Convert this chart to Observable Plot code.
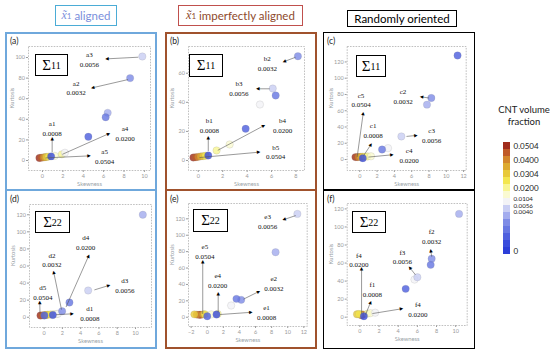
<!DOCTYPE html>
<html><head><meta charset="utf-8">
<script src="https://cdn.jsdelivr.net/npm/d3@7"></script>
<script src="https://cdn.jsdelivr.net/npm/@observablehq/plot@0.6"></script>
<style>
body{margin:0;background:#fff;}
#root{position:relative;width:550px;height:355px;overflow:hidden;font-family:Lato,"Open Sans",sans-serif;}
.abs{position:absolute;box-sizing:border-box;}
.hdr{display:flex;align-items:center;justify-content:center;font-size:11.5px;white-space:nowrap;}
.sig{border:1.6px solid #000;background:#fff;display:flex;align-items:center;justify-content:center;font-family:"Liberation Serif","DejaVu Serif",serif;font-size:15px;color:#000;}
.sig sub{font-size:10px;vertical-align:-3px;}
.let{font-size:8.5px;color:#222;}
.xt{font-family:"Liberation Serif",serif;font-style:italic;font-size:12px;}
svg{overflow:visible;}
</style></head><body><div id="root"></div>
<script>
// ---------- colour scale (CNT volume fraction) ----------
const colorStops = [0, 0.0008, 0.0016, 0.0024, 0.0032, 0.004, 0.0056, 0.0104, 0.015, 0.02, 0.025, 0.0304, 0.035, 0.04, 0.045, 0.0504];
const colorHex = ["#2c3ed8","#3a4ddc","#4f60de","#6878e2","#7f8ce6","#a3acee","#c9cef3","#f3f3f6","#fafad2","#f8f594","#f3e650","#e8c93a","#ddaa30","#d3862c","#c05a28","#a02c1c"];

// legend swatches (top to bottom) and labels
const legendSwatches = [0.0504, 0.045, 0.04, 0.035, 0.0304, 0.025, 0.02, 0.015, 0.0104, 0.0056, 0.004, 0.0032, 0.0024, 0.0016, 0.0008, 0];
const legendLabels = ["0.0504", "0.0400", "0.0304", "0.0200", "0.0104", "0"];
const legendLabelSlots = [0, 2, 4, 6, 8, 15];
const legendSmallLabels = ["0.0056", "0.0040"];

// ---------- panel (a) Σ11, aligned ----------
const skewA = [-0.3, -0.1, 0.1, 0.25, 0.4, 0.6, 1.2, 1.9, 2.2, 0.85, 4.5, 6.2, 8.6, 6.4, 9.8];
const kurtA = [2.5, 2.8, 3, 3.2, 3.5, 3.8, 4.5, 6, 7.5, 4, 23, 42, 80, 46.3, 101];
const fracA = [0.0504, 0.045, 0.04, 0.035, 0.0304, 0.025, 0.015, 0.02, 0.0104, 0.0008, 0.0016, 0.0024, 0.0032, 0.004, 0.0056];
// [name, fraction, labelX, labelY, arrowX1, arrowY1, arrowX2, arrowY2]
const annA = [
  ["a1","0.0008",0.95,32, 0.95,8, 0.95,21],
  ["a2","0.0032",3.3,71, 8.4,78.6, 4.9,70.6],
  ["a3","0.0056",4.6,99, 9.4,100.3, 6.3,98.7],
  ["a4","0.0200",8.1,27, 1.95,6, 6.5,26],
  ["a5","0.0504",6.1,4.2, 0.3,2.5, 4.6,4.5]
];

// ---------- panel (b) Σ11, imperfectly aligned ----------
const skewB = [-0.4, -0.2, 0, 0.2, 0.4, 0.6, 2.57, 1.5, 5.05, 0.82, 3.88, 6.34, 8.16, 6.1];
const kurtB = [2, 2.2, 2.5, 2.8, 3, 3.2, 11, 6.9, 38.5, 3.4, 21.8, 44.7, 71.7, 49.5];
const fracB = [0.0504, 0.045, 0.04, 0.035, 0.0304, 0.025, 0.015, 0.02, 0.0104, 0.0008, 0.0016, 0.0024, 0.0032, 0.0056];
const annB = [
  ["b1","0.0008",0.9,24.3, 0.82,6.5, 0.82,15.6],
  ["b2","0.0032",5.65,67.3, 7.97,71, 7.02,68],
  ["b3","0.0056",3.33,49.7, 5.85,49.3, 4.84,49.3],
  ["b4","0.0200",6.9,24.3, 1.6,7, 5.38,24],
  ["b5","0.0504",6.34,6.2, 0.1,2, 4.97,5.7]
];

// ---------- panel (c) Σ11, randomly oriented ----------
const skewC = [-0.5, -0.3, -0.1, 0.1, 0.3, 0.6, 0.9, 1.3, 3.27, 0.35, 11.3, 2.58, 8.27, 7.77, 4.81];
const kurtC = [3, 3, 3.2, 3.3, 3.5, 3.6, 3.8, 4, 14, 1.6, 128, 12.3, 75.7, 67.5, 28.4];
const fracC = [0.0504, 0.045, 0.04, 0.035, 0.0304, 0.025, 0.02, 0.015, 0.0104, 0.0008, 0.0016, 0.0024, 0.0032, 0.004, 0.0056];
const annC = [
  ["c1","0.0008",1.55,36.2, 0.46,5, 1.3,18.5],
  ["c2","0.0032",5.0,78.4, 8.0,75.7, 7.1,77],
  ["c3","0.0056",8.3,30, 5.4,28.4, 6.5,29.6],
  ["c4","0.0200",5.7,5.3, 1.0,3, 3.74,5.8],
  ["c5","0.0504",0.15,74, -0.3,3, 0.4,57]
];

// ---------- panel (d) Σ22, aligned ----------
const skewD = [-0.4, -0.2, 0, 0.2, 0.4, 0.7, 1.0, 1.4, 1.5, 0.95, 0.03, 2.77, 1.97, 10.8, 4.82];
const kurtD = [2, 2.2, 2.5, 2.7, 3, 3.3, 3.5, 3.8, 4, 2.6, 2, 17.2, 7, 120, 31.3];
const fracD = [0.0504, 0.045, 0.04, 0.035, 0.0304, 0.025, 0.02, 0.015, 0.0104, 0.0008, 0.0016, 0.0024, 0.0032, 0.004, 0.0056];
const annD = [
  ["d1","0.0008",5.0,5, 1.3,3, 3.07,4],
  ["d2","0.0032",0.85,67.8, 1.9,9, 1.05,52.8],
  ["d3","0.0056",8.83,38.2, 5.5,32, 7.08,37.2],
  ["d4","0.0200",4.55,88.3, 2.4,12, 4.88,72],
  ["d5","0.0504",-0.15,29.8, -0.45,4, -0.48,17.6]
];

// ---------- panel (e) Σ22, imperfectly aligned ----------
const skewE = [-1.0, -0.8, -1.3, -0.5, -1.6, -0.3, 1.3, 0.5, 2.97, 1.15, 0, 3.63, 4.22, 8.49, 11.2];
const kurtE = [3, 3, 3.2, 3.5, 3.5, 3.6, 4, 3.5, 14.3, 3.3, 1.2, 22.4, 21.2, 79.3, 126];
const fracE = [0.0504, 0.045, 0.04, 0.035, 0.0304, 0.025, 0.02, 0.015, 0.0104, 0.0008, 0.0016, 0.0024, 0.0032, 0.004, 0.0056];
const annE = [
  ["e1","0.0008",7.37,6.1, 1.6,3.3, 5.46,6],
  ["e2","0.0032",8.27,42.3, 4.5,22, 6.4,31.3],
  ["e3","0.0056",7.5,118, 11,124, 9.5,119],
  ["e4","0.0200",1.3,45.3, 1.36,6, 1.36,28.5],
  ["e5","0.0504",-0.3,80.5, -0.56,4, -0.56,68]
];

// ---------- panel (f) Σ22, randomly oriented ----------
const skewF = [0.2, 0.1, 0.3, 0, -0.3, -0.1, 0.8, 1.1, 1.6, 0.42, 4.78, 7.39, 7.49, 10.35, 6.0, 5.7];
const kurtF = [2.5, 2.7, 3, 3, 3.2, 3.5, 4, 4.5, 5, 1, 31.4, 58, 64.7, 114.5, 44.3, 41.7];
const fracF = [0.0504, 0.045, 0.04, 0.035, 0.0304, 0.025, 0.02, 0.015, 0.0104, 0.0008, 0.0016, 0.0024, 0.0032, 0.004, 0.0056, 0.0104];
const annF = [
  ["f1","0.0008",1.3,31.8, 0.6,3, 1.12,16.6],
  ["f2","0.0032",7.49,90, 7.5,67, 7.39,74],
  ["f3","0.0056",4.43,67.4, 5.8,47, 5.2,55],
  ["f4","0.0200",-0.1,64, 0.18,4, 0.18,53.6],
  ["f4","0.0200",6.06,9.25, 1.3,4, 4.36,9.3]
];

// ---------- layout ----------
const root = document.getElementById("root");
function add(html){ root.insertAdjacentHTML("beforeend", html); }

const colorOpt = {type: "linear", domain: colorStops, range: colorHex};

function panel(p){
  const pts = p.skew.map((s,i)=>({s, k: p.kurt[i], f: p.frac[i]})).sort((a,b)=>b.f-a.f);
  // pixel-per-unit factors (from the plot's own layout) to orient the arrow heads
  const kx = (p.w - p.m[0] - p.m[1]) / (p.xd[1] - p.xd[0]);
  const ky = (p.h - p.m[2] - p.m[3]) / (p.yd[1] - p.yd[0]);
  const ann = p.ann.map(d=>({name:d[0], val:d[1], lx:d[2], ly:d[3], x1:d[4], y1:d[5], x2:d[6], y2:d[7],
    ang: Math.atan2((d[6]-d[4])*kx, (d[7]-d[5])*ky) * 180 / Math.PI}));
  const svg = Plot.plot({
    width: p.w, height: p.h,
    marginLeft: p.m[0], marginRight: p.m[1], marginTop: p.m[2], marginBottom: p.m[3],
    style: {fontSize: "5.5px", color: "#9a9a9a", fontFamily: "Lato, sans-serif", background: "transparent"},
    x: {domain: p.xd, ticks: p.xt, tickSize: 2, tickPadding: 1.5, label: null},
    y: {domain: p.yd, ticks: p.yt, tickSize: 2, tickPadding: 1.5, label: null},
    color: colorOpt,
    marks: [
      Plot.frame({stroke: "#b0b0b0", strokeDasharray: "1.6,1.2", strokeWidth: 0.8}),
      Plot.text(["Skewness"], {frameAnchor: "bottom", text: d => d, dy: 15.5, fontSize: 5.8, fill: "#9aa3a8"}),
      Plot.text(["Kurtosis"], {frameAnchor: "left", text: d => d, dx: -16, rotate: -90, fontSize: 5.8, fill: "#9aa3a8"}),
      Plot.dot(pts, {x: "s", y: "k", fill: "f", r: 3.7, fillOpacity: 0.82, stroke: "#777", strokeOpacity: 0.3, strokeWidth: 0.5}),
      Plot.link(ann, {x1: "x1", y1: "y1", x2: "x2", y2: "y2", stroke: "#555", strokeWidth: 0.6}),
      Plot.text(ann, {x: "x2", y: "y2", text: () => "\u25B2", rotate: "ang", fontSize: 4.5, fill: "#000", fontFamily: "DejaVu Sans"}),
      Plot.text(ann, {x: "lx", y: "ly", text: d => d.name + "\n" + d.val, fontSize: 7, lineHeight: 1.4, fill: "#111", fontFamily: "Liberation Serif, serif"})
    ]
  });
  svg.style.position = "absolute";
  svg.style.left = p.left + "px";
  svg.style.top = p.top + "px";
  root.appendChild(svg);
}

panel({left:5, top:32, w:152, h:158, m:[23,7,14,20], xd:[-1.37,10.6], yd:[-9.7,110.7], xt:[0,2,4,6,8,10], yt:[0,20,40,60,80,100], skew:skewA, kurt:kurtA, frac:fracA, ann:annA});
panel({left:165, top:32, w:152, h:158, m:[23,13,14,20], xd:[-0.8,8.7], yd:[-6.9,78.4], xt:[0,2,4,6,8], yt:[0,20,40,60], skew:skewB, kurt:kurtB, frac:fracB, ann:annB});
panel({left:323, top:32, w:152, h:158, m:[23.7,9.3,14,20], xd:[-1.45,12.3], yd:[-13.5,139], xt:[0,2,4,6,8,10,12], yt:[0,20,40,60,80,100,120], skew:skewC, kurt:kurtC, frac:fracC, ann:annC});
panel({left:5, top:190, w:152, h:159, m:[24,6,14,22], xd:[-1.6,11.75], yd:[-12,132], xt:[0,2,4,6,8,10], yt:[0,20,40,60,80,100,120], skew:skewD, kurt:kurtD, frac:fracD, ann:annD});
panel({left:165, top:190, w:152, h:159, m:[23,10.3,13,23], xd:[-2.33,12.42], yd:[-11.3,138.7], xt:[-2,0,2,4,6,8,10,12], yt:[0,20,40,60,80,100,120], skew:skewE, kurt:kurtE, frac:fracE, ann:annE});
panel({left:323, top:190, w:152, h:159, m:[23.7,8.3,13,24], xd:[-1.32,11.2], yd:[-9.2,126], xt:[0,2,4,6,8,10], yt:[0,20,40,60,80,100,120], skew:skewF, kurt:kurtF, frac:fracF, ann:annF});

// legend
const sw = legendSwatches.map((v,i)=>({i, v}));
const lab = legendLabels.map((t,j)=>({i: legendLabelSlots[j], t}));
const small = legendSmallLabels.map((t,j)=>({i: 8, t, j}));
const leg = Plot.plot({
  width: 52, height: 130, marginLeft: 5, marginRight: 40, marginTop: 5, marginBottom: 4,
  style: {background: "transparent", fontFamily: "Lato, sans-serif"},
  x: {axis: null},
  y: {type: "band", domain: d3.range(legendSwatches.length), padding: 0, axis: null},
  color: colorOpt,
  marks: [
    Plot.cell(sw, {y: "i", fill: "v", inset: 0}),
    Plot.text(lab.filter(d=>d.i!==8), {y: "i", text: "t", frameAnchor: "right", textAnchor: "start", dx: 3, fontSize: 8, fill: "#222"}),
    Plot.text(lab.filter(d=>d.i===8), {y: "i", text: "t", frameAnchor: "right", textAnchor: "start", dx: 3, dy: -2.8, fontSize: 6.2, fill: "#222"}),
    Plot.text(small.filter(d=>d.j===0), {y: "i", text: "t", frameAnchor: "right", textAnchor: "start", dx: 3, dy: 3.6, fontSize: 6.2, fill: "#222"}),
    Plot.text(small.filter(d=>d.j===1), {y: "i", text: "t", frameAnchor: "right", textAnchor: "start", dx: 3, dy: 10, fontSize: 6.2, fill: "#222"})
  ]
});
leg.style.position = "absolute"; leg.style.left = "498px"; leg.style.top = "132px";
root.appendChild(leg);

// frames, headers, labels
add('<div class="abs" style="left:5px;top:32px;width:152px;height:317px;border:2px solid #6fa8dc"></div>');
add('<div class="abs" style="left:5px;top:189px;width:152px;height:2px;background:#6fa8dc"></div>');
add('<div class="abs" style="left:165px;top:32px;width:152px;height:317px;border:2px solid #a0522d"></div>');
add('<div class="abs" style="left:165px;top:189px;width:152px;height:2px;background:#a0522d"></div>');
add('<div class="abs" style="left:323px;top:32px;width:152px;height:317px;border:1.5px solid #000"></div>');
add('<div class="abs" style="left:323px;top:189px;width:152px;height:1.5px;background:#000"></div>');

add('<div class="abs hdr" style="left:55px;top:5px;width:62px;height:21px;border:1.5px solid #4bacd6;color:#7b8fdc"><span class="xt">x&#x303;</span><sub style="font-size:8px">1</sub>&nbsp;aligned</div>');
add('<div class="abs hdr" style="left:178px;top:5px;width:125px;height:21px;border:1.5px solid #c0504d;color:#8e4a2c"><span class="xt">x&#x303;</span><sub style="font-size:8px">1</sub>&nbsp;imperfectly aligned</div>');
add('<div class="abs hdr" style="left:347px;top:10px;width:110px;height:17px;border:1px solid #000;color:#000">Randomly oriented</div>');

add('<div class="abs let" style="left:10px;top:36px">(a)</div>');
add('<div class="abs let" style="left:170px;top:36px">(b)</div>');
add('<div class="abs let" style="left:327px;top:36px">(c)</div>');
add('<div class="abs let" style="left:10px;top:194px">(d)</div>');
add('<div class="abs let" style="left:170px;top:194px">(e)</div>');
add('<div class="abs let" style="left:327px;top:194px">(f)</div>');

add('<div class="abs sig" style="left:35px;top:54px;width:33px;height:22px">&Sigma;<sub>11</sub></div>');
add('<div class="abs sig" style="left:189px;top:54px;width:34px;height:23px">&Sigma;<sub>11</sub></div>');
add('<div class="abs sig" style="left:356px;top:55px;width:30px;height:22px">&Sigma;<sub>11</sub></div>');
add('<div class="abs sig" style="left:35px;top:211px;width:35px;height:22px">&Sigma;<sub>22</sub></div>');
add('<div class="abs sig" style="left:193px;top:209px;width:35px;height:23px">&Sigma;<sub>22</sub></div>');
add('<div class="abs sig" style="left:352px;top:211px;width:34px;height:22px">&Sigma;<sub>22</sub></div>');

add('<div class="abs" style="left:494px;top:104px;width:60px;text-align:center;font-size:9.5px;line-height:12px;color:#222">CNT volume<br>fraction</div>');
</script>
</body></html>
